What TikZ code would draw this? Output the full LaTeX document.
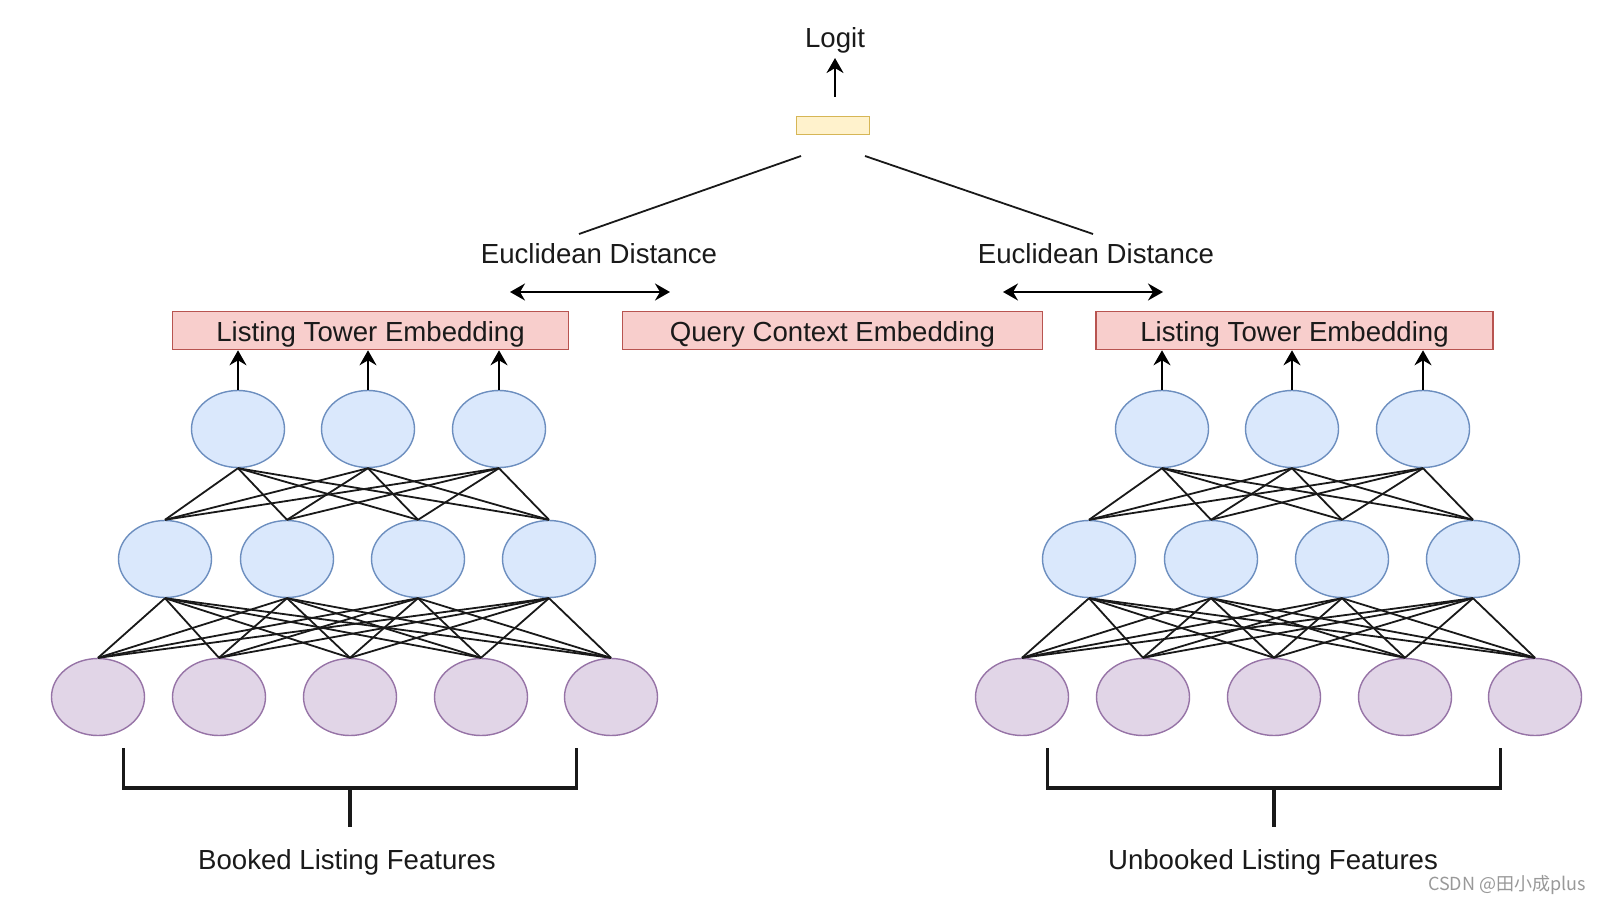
\documentclass[tikz,border=0pt]{standalone}
\usepackage{fontspec}
\setmainfont{Liberation Sans}
\newfontfamily\cjk{Noto Sans CJK SC}
\usetikzlibrary{shapes.geometric,arrows.meta,calc}
\definecolor{pinkfill}{HTML}{F8CECC}
\definecolor{pinkline}{HTML}{B85450}
\definecolor{bluefill}{HTML}{DAE8FC}
\definecolor{blueline}{HTML}{6C8EBF}
\definecolor{purpfill}{HTML}{E1D5E7}
\definecolor{purpline}{HTML}{9673A6}
\definecolor{ylwfill}{HTML}{FFF2CC}
\definecolor{ylwline}{HTML}{D6B656}
\definecolor{txt}{HTML}{1A1A1A}
\tikzset{
  lbl/.style={font=\fontsize{27.6}{33}\selectfont, text=txt, inner sep=0pt},
  embbox/.style={draw=pinkline, fill=pinkfill, line width=1.6pt, minimum height=38pt, inner sep=0pt, lbl, text height=25pt, text depth=4pt},
  blueell/.style={ellipse, draw=blueline, fill=bluefill, line width=1.4pt, minimum width=93pt, minimum height=77pt, inner sep=0pt},
  purpell/.style={ellipse, draw=purpline, fill=purpfill, line width=1.4pt, minimum width=93pt, minimum height=77pt, inner sep=0pt},
  wire/.style={line width=1.8pt, black!90},
  tip/.style={},
  arr/.style={line width=2.2pt, -{Stealth[length=15pt,width=17pt,inset=5pt]}},
  darr/.style={line width=2.2pt, {Stealth[length=15pt,width=17pt,inset=5pt]}-{Stealth[length=15pt,width=17pt,inset=5pt]}},
  brk/.style={line width=3.2pt, black!90},
}
\begin{document}
\begin{tikzpicture}[x=1pt,y=-1pt]
\useasboundingbox[fill=white] (0,0) rectangle (1600,904);

% top part
\node[lbl] (logit) at (835,40) {Logit};
\coordinate (logitfoot) at (835,97);
\draw[arr] (logitfoot) -- ([yshift=-5pt]logit.south);
\node[draw=ylwline, fill=ylwfill, line width=1.6pt, minimum width=73pt, minimum height=18pt, inner sep=0pt] (ylw) at (833,125.5) {};

\coordinate (eL1) at (801,156);
\coordinate (eL2) at (579,234);
\coordinate (eR1) at (865,156);
\coordinate (eR2) at (1093,234);
\draw[wire] (eL1) -- (eL2);
\draw[wire] (eR1) -- (eR2);

\node[lbl] (eucL) at (599,254) {Euclidean Distance};
\node[lbl] (eucR) at (1096,254) {Euclidean Distance};

\coordinate (dL1) at (510,292);
\coordinate (dL2) at (670,292);
\coordinate (dR1) at (1003,292);
\coordinate (dR2) at (1163,292);
\draw[darr] (dL1) -- (dL2);
\draw[darr] (dR1) -- (dR2);

\node[embbox, minimum width=396pt] (boxL) at (370.5,330.5) {Listing Tower Embedding};
\node[embbox, minimum width=420pt] (boxQ) at (832.5,330.5) {Query Context Embedding};
\node[embbox, minimum width=397pt] (boxR) at (1294.5,330.5) {Listing Tower Embedding};

% towers
\foreach \side/\off in {L/0,R/924} {
  \foreach \x [count=\i] in {238,368,499}
    \node[blueell] (\side t\i) at (\x+\off,429) {};
  \foreach \x [count=\i] in {165,287,418,549}
    \node[blueell] (\side m\i) at (\x+\off,559) {};
  \foreach \x [count=\i] in {98,219,350,481,611}
    \node[purpell] (\side b\i) at (\x+\off,697) {};
  \foreach \i in {1,2,3}
    \draw[arr] (\side t\i.north) -- (\side t\i.north |- box\side.south);
  \foreach \i in {1,2,3}
    \foreach \j in {1,2,3,4}
      \draw[wire] (\side t\i.south) -- (\side m\j.north);
  \foreach \i in {1,2,3,4}
    \foreach \j in {1,2,3,4,5}
      \draw[wire] (\side m\i.south) -- (\side b\j.north);
}

% brackets
\coordinate (bkL1) at (123.5,748);
\coordinate (bkL2) at (576.5,748);
\coordinate (bkLc) at (350,788);
\coordinate (bkLs) at (350,827);
\draw[brk] (bkL1) |- (bkLc) -| (bkL2);
\draw[brk] (bkLc) -- (bkLs);
\coordinate (bkR1) at (1047.5,748);
\coordinate (bkR2) at (1500.5,748);
\coordinate (bkRc) at (1274,788);
\coordinate (bkRs) at (1274,827);
\draw[brk] (bkR1) |- (bkRc) -| (bkR2);
\draw[brk] (bkRc) -- (bkRs);

\node[lbl] (featL) at (347,862) {Booked Listing Features};
\node[lbl] (featR) at (1273,862) {Unbooked Listing Features};

\node[anchor=east, inner sep=0pt, text=black!40, font=\cjk\fontsize{18}{20}\selectfont] (wm) at (1586,885) {CSDN @田小成plus};
\end{tikzpicture}
\end{document}
